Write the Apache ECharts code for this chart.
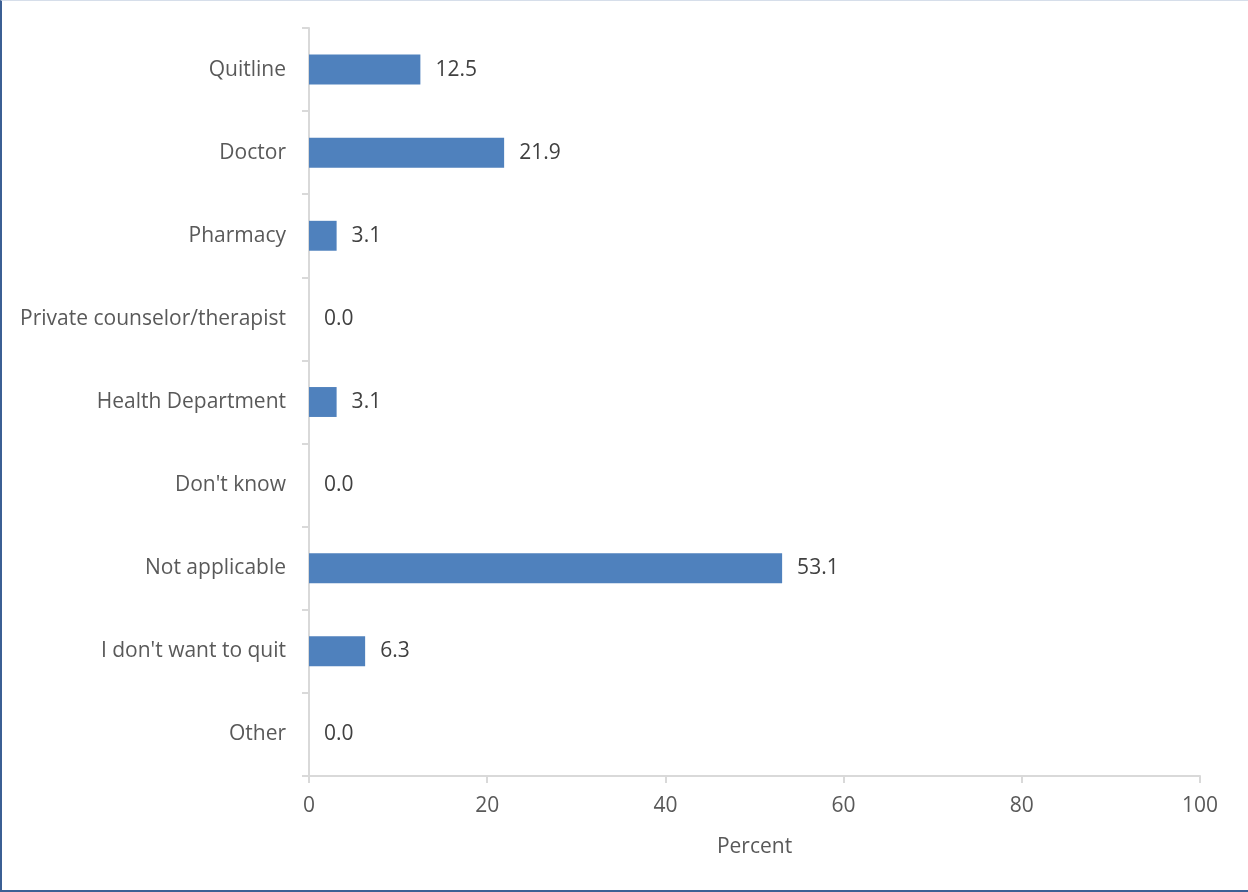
<!DOCTYPE html>
<html><head><meta charset="utf-8">
<script src="https://cdn.jsdelivr.net/npm/echarts@6/dist/echarts.min.js"></script>
<style>
html,body{margin:0;padding:0;background:#fff;}
#frame{position:absolute;left:0;top:0;width:1246px;height:889px;border-left:2px solid #3b5f94;border-bottom:3px solid #3b5f94;border-top:1px solid #d6deea;box-sizing:content-box;}
#c{position:absolute;left:0;top:0;width:1248px;height:892px;}
</style></head>
<body>
<div id="frame"></div>
<div id="c"></div>
<script>
const categories = ["Quitline","Doctor","Pharmacy","Private counselor/therapist","Health Department","Don't know","Not applicable","I don't want to quit","Other"];
const values = [12.5,21.9,3.1,0.0,3.1,0.0,53.1,6.3,0.0];
const xTicks = [0,20,40,60,80,100];

const chart = echarts.init(document.getElementById('c'));
const font = '"Open Sans", sans-serif';
const fs = 21;
chart.setOption({
  animation:false,
  grid:{left:309,right:48,top:28,bottom:116,containLabel:false},
  xAxis:{type:'value',min:xTicks[0],max:xTicks[xTicks.length-1],interval:20,
    name:'Percent',nameLocation:'middle',nameGap:61,
    nameTextStyle:{color:'#595959',fontSize:fs,fontFamily:font},
    axisLine:{show:true,lineStyle:{color:'#d9d9d9',width:2}},
    axisTick:{show:true,length:7,lineStyle:{color:'#d9d9d9',width:2}},
    splitLine:{show:false},
    axisLabel:{color:'#595959',fontSize:fs,fontFamily:font,margin:20}},
  yAxis:{type:'category',data:categories,inverse:true,
    axisLine:{show:true,lineStyle:{color:'#d9d9d9',width:2}},
    axisTick:{show:true,length:7,lineStyle:{color:'#d9d9d9',width:2}},
    axisLabel:{color:'#595959',fontSize:fs,fontFamily:font,margin:23,padding:[5,0,0,0]}},
  series:[{type:'bar',data:values,barWidth:'36%',
    itemStyle:{color:'#4f81bd'},
    label:{show:true,position:'right',distance:15,color:'#404040',fontSize:fs,fontFamily:font,padding:[5,0,0,0],
      formatter:p=>p.value.toFixed(1)}}]
});
</script>
</body></html>
